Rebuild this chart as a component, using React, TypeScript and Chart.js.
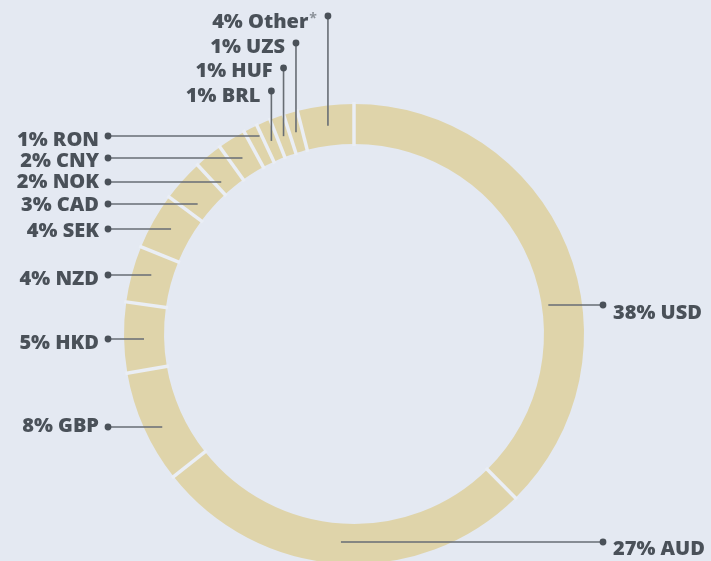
import React, { useEffect, useRef } from "react";
import { Chart, registerables } from "chart.js";

Chart.register(...registerables);

// ---- data ----
const currencies = ["USD", "AUD", "GBP", "HKD", "NZD", "SEK", "CAD", "NOK", "CNY", "RON", "BRL", "HUF", "UZS", "Other"];
const shares = [38, 27, 8, 5, 4, 4, 3, 2, 2, 1, 1, 1, 1, 4];
const footnoteMarks = ["", "", "", "", "", "", "", "", "", "", "", "", "", "*"];

// ---- label layout (annotation placement, not data) ----
type Side = "left" | "right" | "top";
const labelSides: Side[] = ["right", "right", "left", "left", "left", "left", "left", "left", "left", "left", "top", "top", "top", "top"];
const labelDotY = [305, 542, 427, 339, 275, 229, 204, 182, 158, 136, 91, 68, 43, 16];
const labelBaseY = [319, 555, 432, 349, 285, 237, 211, 188, 167, 146, 102, 77, 53, 28];

const BG = "#e4e9f2";
const GAP = "#eaeef5";
const RING = "#dfd4aa";
const TEXT = "#4a5159";
const LINE = "#676d74";
const FONT = "800 20px 'Open Sans', 'Noto Sans', sans-serif";

const separatorPlugin = {
  id: "separators",
  afterDatasetsDraw(chart: any) {
    const ctx: CanvasRenderingContext2D = chart.ctx;
    const meta = chart.getDatasetMeta(0);
    ctx.save();
    ctx.strokeStyle = GAP;
    ctx.lineWidth = 3.5;
    meta.data.forEach((arc: any) => {
      const a = arc.startAngle;
      const r0 = arc.innerRadius - 2;
      const r1 = arc.outerRadius + 2;
      ctx.beginPath();
      ctx.moveTo(arc.x + Math.cos(a) * r0, arc.y + Math.sin(a) * r0);
      ctx.lineTo(arc.x + Math.cos(a) * r1, arc.y + Math.sin(a) * r1);
      ctx.stroke();
    });
    ctx.restore();
  },
};

const labelPlugin = {
  id: "leaderLabels",
  afterDatasetsDraw(chart: any) {
    const ctx: CanvasRenderingContext2D = chart.ctx;
    const meta = chart.getDatasetMeta(0);
    ctx.save();
    meta.data.forEach((arc: any, i: number) => {
      const c = arc.getCenterPoint();
      const side = labelSides[i];
      let dotX: number;
      const dotY = labelDotY[i];
      ctx.strokeStyle = LINE;
      ctx.lineWidth = 1.6;
      ctx.beginPath();
      if (side === "left") {
        dotX = 108;
        ctx.moveTo(c.x, dotY);
        ctx.lineTo(dotX, dotY);
      } else if (side === "right") {
        dotX = 603;
        ctx.moveTo(c.x, dotY);
        ctx.lineTo(dotX, dotY);
      } else {
        dotX = c.x;
        ctx.moveTo(dotX, c.y);
        ctx.lineTo(dotX, dotY);
      }
      ctx.stroke();
      ctx.fillStyle = TEXT;
      ctx.beginPath();
      ctx.arc(dotX, dotY, 3.4, 0, Math.PI * 2);
      ctx.fill();

      const text = `${shares[i]}% ${currencies[i]}`;
      ctx.font = FONT;
      ctx.textBaseline = "alphabetic";
      const mark = footnoteMarks[i];
      if (side === "right") {
        ctx.textAlign = "left";
        ctx.fillText(text, dotX + 10, labelBaseY[i]);
      } else {
        let right = dotX - (side === "left" ? 9 : 11);
        if (mark) {
          ctx.font = "700 14px 'Open Sans', sans-serif";
          ctx.fillStyle = "#8a9098";
          ctx.textAlign = "right";
          ctx.fillText(mark, right, labelBaseY[i] - 5);
          right -= ctx.measureText(mark).width + 1;
          ctx.font = FONT;
          ctx.fillStyle = TEXT;
        }
        ctx.textAlign = "right";
        ctx.fillText(text, right, labelBaseY[i]);
      }
    });
    ctx.restore();
  },
};

export default function App() {
  const ref = useRef<HTMLCanvasElement | null>(null);
  useEffect(() => {
    if (!ref.current) return;
    const chart = new Chart(ref.current, {
      type: "doughnut",
      data: {
        labels: currencies,
        datasets: [
          {
            data: shares,
            backgroundColor: RING,
            borderWidth: 0,
            hoverOffset: 0,
          },
        ],
      },
      options: {
        responsive: false,
        animation: false,
        radius: 230,
        cutout: "82.6%",
        rotation: 0,
        layout: { padding: { left: 0, right: 3, top: 0, bottom: 0 } },
        plugins: {
          legend: { display: false },
          tooltip: { enabled: false },
        },
        events: [],
      } as any,
      plugins: [separatorPlugin, labelPlugin],
    });
    return () => chart.destroy();
  }, []);
  return (
    <div
      style={{
        position: "absolute",
        left: 0,
        top: 0,
        width: 711,
        height: 561,
        overflow: "hidden",
        background: BG,
      }}
    >
      <canvas ref={ref} width={711} height={668} style={{ display: "block" }} />
    </div>
  );
}
